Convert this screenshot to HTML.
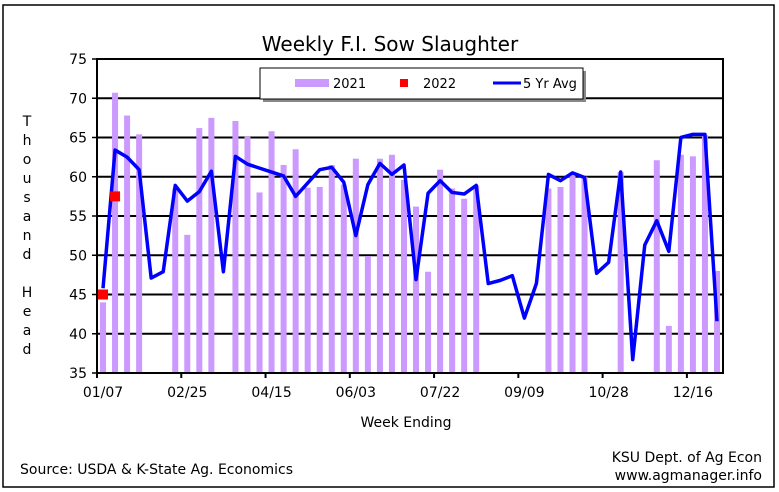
<!DOCTYPE html>
<html><head><meta charset="utf-8"><style>
body{margin:0;background:#fff;}
svg{display:block;font-family:"DejaVu Sans","Liberation Sans",sans-serif;}
</style></head><body>
<svg id="c" width="779" height="492" xmlns="http://www.w3.org/2000/svg">
<rect x="3" y="5" width="771" height="482" fill="#fff" stroke="#000" stroke-width="1.5"/>
<text x="390" y="51" font-size="20" text-anchor="middle">Weekly F.I. Sow Slaughter</text>
<g id="grid"></g>
<g id="bars"></g>
<g id="line"></g>
<g id="pts"></g>
<g id="axes"></g>
<g>
<rect x="263" y="71" width="323" height="31" fill="#888"/>
<rect x="260" y="68" width="323" height="31" fill="#fff" stroke="#000" stroke-width="1"/>
<rect x="295" y="79" width="34" height="8" fill="#cc99ff"/>
<text x="333" y="88" font-size="13">2021</text>
<rect x="400" y="79" width="8" height="8" fill="#ff0000"/>
<text x="423" y="88" font-size="13">2022</text>
<line x1="493" y1="83" x2="521" y2="83" stroke="#0000ff" stroke-width="3"/>
<text x="523" y="88" font-size="13">5 Yr Avg</text>
</g>
<g font-size="14" text-anchor="middle">
<text x="27" y="126">T</text><text x="27" y="145">h</text><text x="27" y="164">o</text><text x="27" y="183">u</text><text x="27" y="202">s</text><text x="27" y="221">a</text><text x="27" y="240">n</text><text x="27" y="259">d</text>
<text x="27" y="297">H</text><text x="27" y="316">e</text><text x="27" y="335">a</text><text x="27" y="354">d</text>
</g>
<text x="406" y="427" font-size="14" text-anchor="middle">Week Ending</text>
<text x="20" y="474" font-size="14">Source:  USDA &amp; K-State Ag. Economics</text>
<text x="762" y="462" font-size="14" text-anchor="end">KSU Dept. of Ag Econ</text>
<text x="762" y="480" font-size="14" text-anchor="end">www.agmanager.info</text>
</svg>
<script>
const yTicks=[35,40,45,50,55,60,65,70,75];
const xTickLabels=["01/07","02/25","04/15","06/03","07/22","09/09","10/28","12/16"];
const xTickWeeks=[0,7,14,21,28,35,42,49];
const s2021=[44,70.7,67.8,65.4,0,0,58.5,52.6,66.2,67.5,0,67.1,65.1,58.0,65.8,61.5,63.5,58.6,58.7,61.5,59,62.3,49.9,62.3,62.8,59.6,56.2,47.9,60.9,58.5,57.2,58.9,0,0,0,0,0,58.5,58.7,60.2,60.0,0,0,60.6,0,0,62.1,41.0,62.8,62.6,65.3,48.0];
const s2022=[45.0,57.5];
const avg5=[45.8,63.4,62.5,60.9,47.1,47.9,58.9,56.9,58.1,60.7,47.9,62.6,61.6,61.1,60.6,60.1,57.5,59.2,60.9,61.2,59.3,52.5,59.0,61.7,60.3,61.5,46.9,57.9,59.5,58.0,57.8,58.9,46.4,46.8,47.4,42.0,46.4,60.3,59.5,60.5,59.9,47.7,49.1,60.6,36.7,51.3,54.4,50.5,65.0,65.4,65.4,41.6];
const L=97,R=723,T=59,B=373,N=52,ns="http://www.w3.org/2000/svg";
const sw=(R-L)/N;
const y=v=>B-(v-35)/40*(B-T);
const x=i=>L+(i+0.5)*sw;
function mk(t,a,p){const e=document.createElementNS(ns,t);for(const k in a)e.setAttribute(k,a[k]);document.getElementById(p).appendChild(e);return e;}
yTicks.forEach(v=>{
 if(v>35&&v<75){const g=mk('line',{x1:L,x2:R,y1:y(v),y2:y(v),stroke:'#000','stroke-width':2},'grid');
 
 }
 const tk=mk('line',{x1:L-5,x2:L,y1:y(v),y2:y(v),stroke:'#000','stroke-width':1.5},'axes');
 
 
 const t=mk('text',{x:L-10,y:y(v)+5,'font-size':14,'text-anchor':'end'},'axes');t.textContent=v;
 
 
});
s2021.forEach((v,i)=>{if(v>35){const b=mk('rect',{x:x(i)-3,y:y(v),width:6,height:B-y(v),fill:'#cc99ff'},'bars');
 
 }});
const pl=mk('polyline',{points:avg5.map((v,i)=>x(i)+','+y(v)).join(' '),fill:'none',stroke:'#0000ff','stroke-width':3.5,'stroke-linejoin':'round'},'line');


s2022.forEach((v,i)=>{const p=mk('rect',{x:x(i)-5,y:y(v)-5,width:10,height:10,fill:'#ff0000'},'pts');
 
 });
const fr=mk('rect',{x:L,y:T,width:R-L,height:B-T,fill:'none',stroke:'#000','stroke-width':2},'axes');


xTickWeeks.forEach((w,k)=>{
 const tk=mk('line',{x1:L+w*sw,x2:L+w*sw,y1:B,y2:B+5,stroke:'#000','stroke-width':2},'axes');
 
 
 const t=mk('text',{x:x(w),y:B+24,'font-size':14,'text-anchor':'middle'},'axes');t.textContent=xTickLabels[k];
 
 
});
</script>
</body></html>
